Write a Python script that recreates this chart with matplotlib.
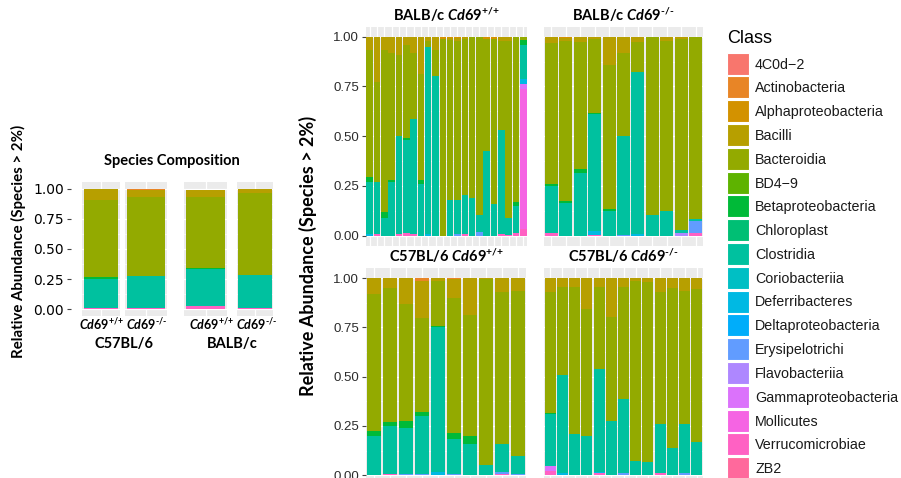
import math
import numpy as np
import matplotlib
matplotlib.use("Agg")
import matplotlib.pyplot as plt
from matplotlib.patches import Rectangle

plt.rcParams['mathtext.fontset'] = 'custom'
plt.rcParams['mathtext.rm'] = 'Lato:bold'
plt.rcParams['mathtext.it'] = 'Lato:italic:bold'
plt.rcParams['mathtext.bf'] = 'Lato:bold'

# ---------------- data ----------------
classes = ["4C0d\u22122", "Actinobacteria", "Alphaproteobacteria", "Bacilli", "Bacteroidia",
           "BD4\u22129", "Betaproteobacteria", "Chloroplast", "Clostridia", "Coriobacteriia",
           "Deferribacteres", "Deltaproteobacteria", "Erysipelotrichi", "Flavobacteriia",
           "Gammaproteobacteria", "Mollicutes", "Verrucomicrobiae", "ZB2"]

# Summary panel (C57BL/6 +/+, C57BL/6 -/-, BALB/c +/+, BALB/c -/-)
sum_verruco = [0.008, 0.012, 0.030, 0.008]
sum_clostridia = [0.247, 0.263, 0.305, 0.277]
sum_betaproteo = [0.010, 0.000, 0.005, 0.000]
sum_bacteroidia = [0.640, 0.655, 0.590, 0.680]
sum_bacilli = [0.090, 0.060, 0.060, 0.030]
sum_actino = [0.000, 0.010, 0.000, 0.005]
sum_4c0d2 = [0.005, 0.000, 0.000, 0.000]

# BALB/c Cd69+/+ (22 mice)
bw_verruco = [0, 0.008, 0, 0, 0.008, 0.015, 0.010, 0, 0, 0, 0, 0, 0, 0.010, 0, 0, 0, 0, 0.008, 0.005, 0.012, 0.033]
bw_mollicutes = [0, 0, 0, 0, 0, 0, 0, 0, 0, 0, 0, 0, 0, 0, 0, 0, 0, 0, 0, 0, 0, 0.705]
bw_gamma = [0, 0, 0, 0, 0, 0, 0, 0, 0, 0, 0, 0, 0, 0, 0, 0, 0, 0, 0, 0, 0, 0.025]
bw_erysipelo = [0, 0, 0, 0, 0, 0, 0, 0, 0, 0, 0, 0, 0.010, 0, 0, 0.020, 0, 0, 0, 0, 0, 0]
bw_deferri = [0.008, 0, 0, 0, 0, 0, 0, 0, 0.008, 0, 0, 0, 0, 0, 0, 0, 0, 0, 0, 0, 0, 0.022]
bw_clostridia = [0.262, 0.260, 0.087, 0.268, 0.495, 0.465, 0.576, 0.258, 0.942, 0.800, 0.0,
                 0.180, 0.170, 0.195, 0.190, 0.084, 0.425, 0.157, 0.522, 0.082, 0.138, 0.175]
bw_betaproteo = [0.027, 0, 0.030, 0.010, 0, 0.009, 0, 0.020, 0, 0, 0, 0, 0, 0, 0, 0, 0, 0, 0, 0, 0.018, 0.025]
bw_bacteroidia = [0.636, 0.502, 0.816, 0.642, 0.407, 0.471, 0.330, 0.532, 0.030, 0.133, 0.990,
                  0.803, 0.798, 0.785, 0.810, 0.896, 0.565, 0.833, 0.448, 0.891, 0.832, 0.015]
bw_bacilli = [0.067, 0.230, 0.067, 0.080, 0.090, 0.040, 0.084, 0.190, 0.020, 0.067, 0,
              0.012, 0.017, 0.010, 0, 0, 0, 0, 0.022, 0.022, 0, 0]
bw_alpha = [0, 0, 0, 0, 0, 0, 0, 0, 0, 0, 0.010, 0.005, 0.005, 0, 0, 0, 0.010, 0.010, 0, 0, 0, 0]

# BALB/c Cd69-/- (11 mice)
bk_verruco = [0.015, 0, 0, 0.005, 0, 0, 0, 0, 0, 0, 0.015]
bk_flavo = [0, 0, 0, 0, 0, 0, 0, 0, 0, 0.015, 0]
bk_erysipelo = [0, 0, 0, 0, 0, 0.005, 0, 0, 0, 0, 0.057]
bk_deferri = [0, 0, 0, 0.020, 0, 0, 0.010, 0, 0, 0, 0]
bk_clostridia = [0.235, 0.164, 0.314, 0.585, 0.122, 0.498, 0.810, 0.105, 0.125, 0.012, 0.013]
bk_betaproteo = [0.010, 0.008, 0.022, 0.005, 0.012, 0, 0, 0, 0, 0.003, 0]
bk_bacteroidia = [0.707, 0.808, 0.639, 0.375, 0.724, 0.417, 0.155, 0.895, 0.855, 0.957, 0.915]
bk_bacilli = [0.033, 0.015, 0.025, 0.010, 0.142, 0.080, 0.025, 0, 0.020, 0.013, 0]
bk_alpha = [0, 0.005, 0, 0, 0, 0, 0, 0, 0, 0, 0]

# C57BL/6 Cd69+/+ (10 mice)
cw_verruco = [0, 0.006, 0, 0, 0, 0, 0, 0, 0.006, 0]
cw_erysipelo = [0, 0, 0.006, 0.004, 0, 0.004, 0, 0, 0.010, 0.006]
cw_deferri = [0, 0, 0, 0, 0.015, 0, 0, 0, 0, 0]
cw_clostridia = [0.198, 0.243, 0.234, 0.297, 0.735, 0.179, 0.160, 0.050, 0.144, 0.092]
cw_betaproteo = [0.027, 0.021, 0.034, 0.020, 0.008, 0.032, 0.038, 0, 0, 0]
cw_bacteroidia = [0.692, 0.681, 0.592, 0.474, 0.228, 0.685, 0.614, 0.945, 0.767, 0.836]
cw_bacilli = [0.083, 0.049, 0.134, 0.191, 0.014, 0.095, 0.188, 0.005, 0.073, 0.066]
cw_actino = [0, 0, 0, 0.014, 0, 0.005, 0, 0, 0, 0]

# C57BL/6 Cd69-/- (13 mice)
ck_verruco = [0.020, 0, 0, 0, 0.010, 0, 0, 0, 0, 0.010, 0, 0, 0]
ck_gamma = [0.025, 0, 0, 0, 0, 0, 0, 0, 0, 0, 0, 0, 0]
ck_erysipelo = [0, 0, 0, 0, 0, 0, 0.010, 0, 0, 0, 0, 0.010, 0]
ck_deferri = [0, 0.012, 0, 0, 0.006, 0, 0, 0, 0, 0, 0, 0, 0]
ck_clostridia = [0.263, 0.496, 0.208, 0.198, 0.522, 0.274, 0.376, 0.073, 0.068, 0.249, 0.139, 0.249, 0.166]
ck_betaproteo = [0.007, 0, 0, 0, 0, 0, 0, 0, 0, 0, 0, 0, 0]
ck_bacteroidia = [0.612, 0.445, 0.745, 0.645, 0.418, 0.526, 0.567, 0.913, 0.913, 0.671, 0.809, 0.677, 0.778]
ck_bacilli = [0.073, 0.047, 0.047, 0.157, 0.044, 0.200, 0.047, 0.014, 0.019, 0.070, 0.052, 0.064, 0.056]

y_ticks = [0.0, 0.25, 0.5, 0.75, 1.0]
y_ticklabels = ["0.00", "0.25", "0.50", "0.75", "1.00"]

WT = r"$\mathit{Cd69}^{\text{+/+}}$"
KO = r"$\mathit{Cd69}^{\text{-/-}}$"


# ---------------- palette (ggplot2 default hue palette) ----------------
def hcl_hex(h, c=100.0, l=65.0):
    hr = math.radians(h)
    u, v = c * math.cos(hr), c * math.sin(hr)
    Xn, Yn, Zn = 95.047, 100.0, 108.883
    Y = Yn * ((l + 16) / 116) ** 3
    den = Xn + 15 * Yn + 3 * Zn
    un, vn = 4 * Xn / den, 9 * Yn / den
    up, vp = u / (13 * l) + un, v / (13 * l) + vn
    X = Y * 9 * up / (4 * vp)
    Z = Y * (12 - 3 * up - 20 * vp) / (4 * vp)
    X, Y, Z = X / 100, Y / 100, Z / 100
    r = 3.2404542 * X - 1.5371385 * Y - 0.4985314 * Z
    g = -0.9692660 * X + 1.8760108 * Y + 0.0415560 * Z
    b = 0.0556434 * X - 0.2040259 * Y + 1.0572252 * Z
    out = []
    for ch in (r, g, b):
        ch = 12.92 * ch if ch <= 0.0031308 else 1.055 * ch ** (1 / 2.4) - 0.055
        out.append(min(1, max(0, ch)))
    return tuple(out)


hues = np.linspace(15, 375, len(classes) + 1)[:-1]
colors = {cl: hcl_hex(h) for cl, h in zip(classes, hues)}

# ---------------- figure ----------------
W, H = 901, 478
fig = plt.figure(figsize=(W / 100, H / 100), dpi=100)
fig.patch.set_facecolor("white")


def add_ax(x0, y0, x1, y1):
    return fig.add_axes([x0 / W, 1 - y1 / H, (x1 - x0) / W, (y1 - y0) / H])


BG = "#EBEBEB"
TICK_COL = "#2b2b2b"


def draw_panel(ax, table, width=0.92, show_y=False, ytick_font=None, ysize=8.5, outward=0):
    n = len(next(iter(table.values())))
    x = np.arange(1, n + 1)
    ax.set_facecolor(BG)
    for s in ax.spines.values():
        s.set_visible(False)
    ax.set_xlim(0.5, n + 0.5)
    ax.set_ylim(-0.05, 1.05)
    for yv in y_ticks:
        ax.axhline(yv, color="white", lw=0.9, zorder=0)
    for yv in [0.125, 0.375, 0.625, 0.875]:
        ax.axhline(yv, color="white", lw=0.45, zorder=0)
    for xv in x:
        ax.axvline(xv, color="white", lw=0.9, zorder=0)
    bottom = np.zeros(n)
    for cl in reversed(classes):
        if cl in table:
            vals = np.array(table[cl], dtype=float)
            ax.bar(x, vals, width=width, bottom=bottom, color=colors[cl], linewidth=0, zorder=2)
            bottom += vals
    ax.set_xticks([])
    if show_y:
        ax.set_yticks(y_ticks)
        ax.set_yticklabels(y_ticklabels, fontsize=ysize, color=TICK_COL,
                           family=ytick_font if ytick_font else "Liberation Sans")
        ax.tick_params(axis="y", length=3, width=0.8, color="#444444", pad=2)
        if outward:
            ax.spines["left"].set_position(("outward", outward))
    else:
        ax.set_yticks([])


# ----- summary panel -----
sum_boxes = [(82, 120), (125, 167), (184, 227), (237, 273)]
for i, (x0, x1) in enumerate(sum_boxes):
    ax = add_ax(x0, 182.5, x1, 315.5)
    table = {
        "Verrucomicrobiae": [sum_verruco[i]],
        "Clostridia": [sum_clostridia[i]],
        "Betaproteobacteria": [sum_betaproteo[i]],
        "Bacteroidia": [sum_bacteroidia[i]],
        "Bacilli": [sum_bacilli[i]],
        "Actinobacteria": [sum_actino[i]],
        "4C0d\u22122": [sum_4c0d2[i]],
    }
    draw_panel(ax, table, width=0.92, show_y=(i == 0), ytick_font="DejaVu Sans", ysize=9.5, outward=8)

fig.text(172 / W, 1 - 161 / H, "Species Composition", ha="center", va="center",
         fontsize=10.5, fontweight="bold", family="Lato")
fig.text(18 / W, 1 - 241 / H, "Relative Abundance (Species > 2%)", ha="center", va="center",
         rotation=90, fontsize=10.8, fontweight="bold", family="Lato")
geno_labels = [WT, KO, WT, KO]
geno_x = [101, 147, 211, 257]
for gx, gl in zip(geno_x, geno_labels):
    fig.text(gx / W, 1 - 325 / H, gl, ha="center", va="center", fontsize=9)
fig.text(124 / W, 1 - 344 / H, "C57BL/6", ha="center", va="center", fontsize=10.5,
         fontweight="bold", family="Lato")
fig.text(232 / W, 1 - 344 / H, "BALB/c", ha="center", va="center", fontsize=10.5,
         fontweight="bold", family="Lato")

# ----- faceted panels -----
panels = [
    ((366, 26.7, 527, 245.6), {
        "Verrucomicrobiae": bw_verruco, "Mollicutes": bw_mollicutes, "Gammaproteobacteria": bw_gamma,
        "Erysipelotrichi": bw_erysipelo, "Deferribacteres": bw_deferri, "Clostridia": bw_clostridia,
        "Betaproteobacteria": bw_betaproteo, "Bacteroidia": bw_bacteroidia, "Bacilli": bw_bacilli,
        "Alphaproteobacteria": bw_alpha}, True, "BALB/c " + WT),
    ((544, 26.7, 703, 245.6), {
        "Verrucomicrobiae": bk_verruco, "Flavobacteriia": bk_flavo, "Erysipelotrichi": bk_erysipelo,
        "Deferribacteres": bk_deferri, "Clostridia": bk_clostridia, "Betaproteobacteria": bk_betaproteo,
        "Bacteroidia": bk_bacteroidia, "Bacilli": bk_bacilli, "Alphaproteobacteria": bk_alpha},
     False, "BALB/c " + KO),
    ((366, 268.2, 526, 485.0), {
        "Verrucomicrobiae": cw_verruco, "Erysipelotrichi": cw_erysipelo, "Deferribacteres": cw_deferri,
        "Clostridia": cw_clostridia, "Betaproteobacteria": cw_betaproteo, "Bacteroidia": cw_bacteroidia,
        "Bacilli": cw_bacilli, "Actinobacteria": cw_actino}, True, "C57BL/6 " + WT),
    ((544, 268.2, 703, 485.0), {
        "Verrucomicrobiae": ck_verruco, "Gammaproteobacteria": ck_gamma, "Erysipelotrichi": ck_erysipelo,
        "Deferribacteres": ck_deferri, "Clostridia": ck_clostridia, "Betaproteobacteria": ck_betaproteo,
        "Bacteroidia": ck_bacteroidia, "Bacilli": ck_bacilli}, False, "C57BL/6 " + KO),
]
for (x0, y0, x1, y1), table, show_y, title in panels:
    ax = add_ax(x0, y0, x1, y1)
    draw_panel(ax, table, width=0.9, show_y=show_y, ysize=9.5)
    fig.text(((x0 + x1) / 2) / W, 1 - (y0 - 3) / H, title, ha="center", va="bottom",
             fontsize=10.5, fontweight="bold", family="Lato")

fig.text(308 / W, 1 - 256 / H, "Relative Abundance (Species > 2%)", ha="center", va="center",
         rotation=90, fontsize=13, fontweight="bold", family="Lato")

# ----- legend -----
lax = fig.add_axes([0, 0, 1, 1], facecolor="none")
lax.set_xlim(0, W)
lax.set_ylim(H, 0)
lax.axis("off")
lax.text(727, 38, "Class", ha="left", va="center", fontsize=13, family="Liberation Sans")
for i, cl in enumerate(classes):
    yc = 63.5 + i * 23.8
    lax.add_patch(Rectangle((727, yc - 11), 21.5, 22, facecolor=colors[cl], edgecolor="white", lw=0.8))
    lax.text(755, yc + 1, cl, ha="left", va="center", fontsize=10.3, family="Liberation Sans",
             color="#1a1a1a")

fig.savefig("out.png", dpi=100)
